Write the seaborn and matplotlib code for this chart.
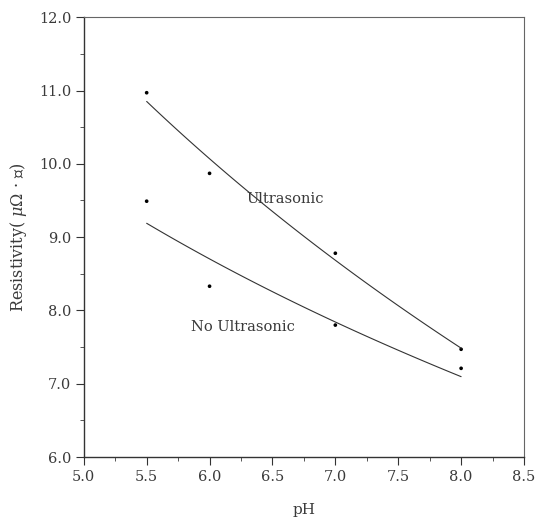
import numpy as np
import pandas as pd
import matplotlib
matplotlib.use("Agg")
import matplotlib.pyplot as plt
from matplotlib.ticker import MultipleLocator, FormatStrFormatter
import seaborn as sns

# values
ph = [5.5, 6.0, 7.0, 8.0]
ultrasonic = [10.97, 9.87, 8.78, 7.47]
no_ultrasonic = [9.49, 8.33, 7.80, 7.21]

df = pd.DataFrame({
    "pH": ph * 2,
    "resistivity": ultrasonic + no_ultrasonic,
    "group": ["Ultrasonic"] * len(ph) + ["No Ultrasonic"] * len(ph),
})

sns.set_theme(style="white")
plt.rcParams["font.family"] = ["DejaVu Serif", "Noto Sans CJK JP", "DejaVu Sans"]
plt.rcParams["mathtext.fontset"] = "dejavuserif"

fig = plt.figure(figsize=(5.37, 5.22), dpi=100)
ax = fig.add_axes([0.156, 0.1245, 0.8198, 0.8425])

txt = "#3a3a3a"
line_kw = dict(color="#333333", lw=0.8)
# y = a + b*ln(x) fit for each series
for name in ["Ultrasonic", "No Ultrasonic"]:
    sub = df[df["group"] == name]
    sns.regplot(data=sub, x="pH", y="resistivity", logx=True, ci=None,
                scatter=False, truncate=True, line_kws=line_kw, ax=ax)

sns.scatterplot(data=df, x="pH", y="resistivity", color="black", s=7,
                edgecolor="none", legend=False, ax=ax)

ax.text(6.29, 9.52, "Ultrasonic", fontsize=10.5, color=txt, va="center")
ax.text(5.85, 7.78, "No Ultrasonic", fontsize=10.5, color=txt, va="center")

ax.set_xlim(5.0, 8.5)
ax.set_ylim(6.0, 12.0)
ax.xaxis.set_major_locator(MultipleLocator(0.5))
ax.xaxis.set_minor_locator(MultipleLocator(0.25))
ax.yaxis.set_major_locator(MultipleLocator(1.0))
ax.yaxis.set_minor_locator(MultipleLocator(0.5))
ax.xaxis.set_major_formatter(FormatStrFormatter("%.1f"))
ax.yaxis.set_major_formatter(FormatStrFormatter("%.1f"))

ax.tick_params(which="major", direction="out", length=6, width=0.8,
               color="#333333", labelsize=10.5, labelcolor=txt,
               bottom=True, left=True, pad=3)
ax.tick_params(which="minor", direction="out", length=3, width=0.7,
               color="#555555", bottom=True, left=True)

for side in ["left", "bottom"]:
    ax.spines[side].set_color("#333333")
    ax.spines[side].set_linewidth(1.0)
for side in ["top", "right"]:
    ax.spines[side].set_color("#666666")
    ax.spines[side].set_linewidth(0.8)

ax.set_xlabel("pH", fontsize=11, color=txt, labelpad=14)
ax.set_ylabel("Resistivity( $\\mathit{\\mu\\Omega}$ · ㎝)", fontsize=11.5,
              color=txt, labelpad=7)

fig.savefig("out.png", dpi=100, facecolor="white")
